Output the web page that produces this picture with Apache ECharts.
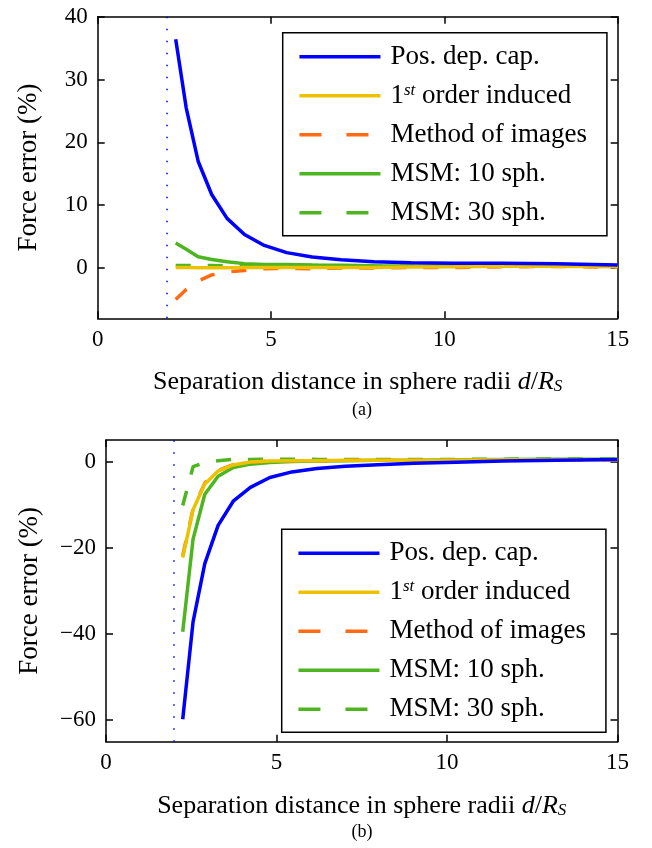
<!DOCTYPE html>
<html>
<head>
<meta charset="utf-8">
<script src="https://cdn.jsdelivr.net/npm/echarts@6/dist/echarts.min.js"></script>
<style>html,body{margin:0;padding:0;background:#fff;}#c{width:652px;height:848px;}</style>
</head>
<body>
<div id="c"></div>
<script>
// ---------- data ----------
const seriesNames = ['Pos. dep. cap.', '1st order induced', 'Method of images', 'MSM: 10 sph.', 'MSM: 30 sph.'];
const xVals = [2.25, 2.553, 2.897, 3.288, 3.731, 4.234, 4.805, 5.452, 6.187, 7.021, 7.967, 9.041, 10.26, 11.64, 13.21, 15.0];

// (a)
const aPosDep  = [36.4, 25.5, 17.0, 11.7, 7.9, 5.35, 3.6, 2.45, 1.75, 1.3, 1.0, 0.85, 0.75, 0.75, 0.7, 0.5];
const aFirst   = [0.1, 0.1, 0.05, 0.05, 0.05, 0.1, 0.1, 0.1, 0.1, 0.1, 0.1, 0.15, 0.2, 0.3, 0.3, 0.2];
const aImages  = [-5.0, -3.4, -2.05, -1.1, -0.6, -0.4, -0.1, -0.05, -0.1, 0, 0, 0.1, 0.1, 0.2, 0.25, 0.15];
const aMsm10   = [4.0, 3.0, 1.8, 1.35, 1.0, 0.7, 0.55, 0.55, 0.5, 0.45, 0.35, 0.3, 0.35, 0.45, 0.5, 0.3];
const aMsm30   = [0.4, 0.4, 0.4, 0.4, 0.35, 0.35, 0.35, 0.4, 0.4, 0.35, 0.3, 0.3, 0.3, 0.35, 0.4, 0.3];

// (b)
const bPosDep  = [-59.8, -37.2, -23.7, -14.8, -9.2, -6.0, -3.7, -2.4, -1.6, -1.1, -0.75, -0.4, -0.15, 0.1, 0.3, 0.5];
const bFirst   = [-22.3, -11.2, -5.2, -2.2, -0.8, -0.1, 0.1, 0.2, 0.2, 0.3, 0.3, 0.3, 0.3, 0.4, 0.4, 0.4];
const bImages  = [-21.8, -11.0, -5.0, -2.1, -0.7, -0.1, 0.1, 0.2, 0.2, 0.3, 0.3, 0.3, 0.3, 0.4, 0.4, 0.4];
const bMsm10   = [-39.5, -18.0, -7.6, -3.4, -1.4, -0.6, -0.2, 0, 0.1, 0.2, 0.3, 0.3, 0.4, 0.5, 0.55, 0.55];
const bMsm30   = [-10.2, -1.2, -0.2, 0.2, 0.5, 0.5, 0.55, 0.55, 0.5, 0.5, 0.5, 0.5, 0.5, 0.55, 0.6, 0.55];

const xTicks  = [0, 5, 10, 15];
const aYTicks = [0, 10, 20, 30, 40];
const bYTicks = [-60, -40, -20, 0];
const xRange  = [0, 15];
const aYRange = [-8, 40];
const bYRange = [-65, 5];
const dividerX = 2;

// ---------- style ----------
const FONT = 'Liberation Serif';
const colors = ['#0000ff', '#ecc200', '#ff6a13', '#4db51f', '#4db51f'];
const dashes = ['solid', 'solid', [15, 17], 'solid', [15, 17]];
const legendDashes = ['solid', 'solid', [22, 25], 'solid', [22, 25]];

function pairs(ys) { return xVals.map((x, i) => [x, ys[i]]); }

const chart = echarts.init(document.getElementById('c'), null, { renderer: 'canvas' });

function makeXAxes(gi) {
  const common = {
    type: 'value', gridIndex: gi, min: xRange[0], max: xRange[1],
    axisLine: { show: true, onZero: false, lineStyle: { color: '#000', width: 1.5 } },
    axisTick: { show: true, inside: true, length: 7, customValues: xTicks, lineStyle: { color: '#000', width: 1.5 } },
    splitLine: { show: false }
  };
  return [
    Object.assign({}, common, {
      position: 'bottom',
      axisLabel: { show: true, customValues: xTicks, margin: 10, color: '#000', fontFamily: FONT, fontSize: 23 },
      name: 'Separation distance in sphere radii {it|d}/{it|R}{sub|S}',
      nameLocation: 'middle', nameGap: 51, nameMoveOverlap: false,
      nameTextStyle: { color: '#000', fontFamily: FONT, fontSize: 26,
        rich: {
          it: { fontFamily: FONT, fontSize: 26, fontStyle: 'italic', color: '#000' },
          sub: { fontFamily: FONT, fontSize: 17, fontStyle: 'italic', color: '#000', verticalAlign: 'bottom', padding: [8, 0, 0, 0] }
        } }
    }),
    Object.assign({}, common, { position: 'top', axisLabel: { show: false } })
  ];
}

function makeYAxes(gi, range, ticks) {
  const common = {
    type: 'value', gridIndex: gi, min: range[0], max: range[1],
    axisLine: { show: true, onZero: false, lineStyle: { color: '#000', width: 1.5 } },
    axisTick: { show: true, inside: true, length: 7, customValues: ticks, lineStyle: { color: '#000', width: 1.5 } },
    splitLine: { show: false }
  };
  return [
    Object.assign({}, common, {
      position: 'left',
      axisLabel: { show: true, customValues: ticks, margin: 10, color: '#000', fontFamily: FONT, fontSize: 23,
        formatter: v => String(v).replace('-', '\u2212') },
      name: 'Force error (%)', nameLocation: 'middle', nameGap: gi === 0 ? 55 : 63, nameMoveOverlap: false,
      nameTextStyle: { color: '#000', fontFamily: FONT, fontSize: 27 }
    }),
    Object.assign({}, common, { position: 'right', axisLabel: { show: false } })
  ];
}

const dataSets = [
  [aPosDep, aFirst, aImages, aMsm10, aMsm30],
  [bPosDep, bFirst, bImages, bMsm10, bMsm30]
];

const series = [];
dataSets.forEach((set, gi) => {
  set.forEach((ys, si) => {
    const s = {
      type: 'line', name: seriesNames[si],
      xAxisIndex: gi * 2, yAxisIndex: gi * 2,
      data: pairs(ys), showSymbol: false, symbol: 'none',
      lineStyle: { color: colors[si], width: 3.5, type: dashes[si] },
      itemStyle: { color: colors[si] },
      z: 10 - si
    };
    if (si === 0) {
      s.markLine = {
        silent: true, symbol: 'none', animation: false,
        label: { show: false },
        lineStyle: { color: '#0000ff', width: 1.5, type: [1.5, 10.5] },
        data: [{ xAxis: dividerX }]
      };
    }
    series.push(s);
  });
});

function legendFor(left, top) {
  return {
    show: true, orient: 'vertical', left: left, top: top,
    data: seriesNames.map((n, i) => ({
      name: n,
      itemStyle: { opacity: 0 },
      lineStyle: { color: colors[i], width: 3.5, type: legendDashes[i] }
    })),
    itemWidth: 81, itemHeight: 14, itemGap: 11,
    padding: [10, 20, 9, 15],
    borderColor: '#000', borderWidth: 1.5, backgroundColor: '#fff',
    inactiveColor: '#000',
    selectedMode: false,
    formatter: n => n === '1st order induced' ? '1{sup|st} order induced' : n,
    textStyle: { color: '#000', fontFamily: FONT, fontSize: 27, lineHeight: 28, padding: [0, 0, 0, 5],
      rich: { sup: { fontFamily: FONT, fontSize: 17, fontStyle: 'italic', color: '#000', verticalAlign: 'top', lineHeight: 28, padding: [0, 0, 10, 0] } } }
  };
}

const xAxes = makeXAxes(0).concat(makeXAxes(1));
const yAxes = makeYAxes(0, aYRange, aYTicks).concat(makeYAxes(1, bYRange, bYTicks));

chart.setOption({
  animation: false,
  backgroundColor: '#fff',
  textStyle: { fontFamily: FONT },
  title: [
    { text: '(a)', left: 357, top: 396, textAlign: 'center', textStyle: { color: '#000', fontFamily: FONT, fontSize: 18, fontWeight: 'normal' } },
    { text: '(b)', left: 357, top: 818, textAlign: 'center', textStyle: { color: '#000', fontFamily: FONT, fontSize: 18, fontWeight: 'normal' } }
  ],
  grid: [
    { left: 97.7, top: 16.7, width: 520, height: 301.6, containLabel: false },
    { left: 106, top: 440, width: 511.5, height: 301.7, containLabel: false }
  ],
  legend: [legendFor(282.7, 32.7), legendFor(281.7, 529.3)],
  xAxis: xAxes,
  yAxis: yAxes,
  series: series
});
</script>
</body>
</html>
